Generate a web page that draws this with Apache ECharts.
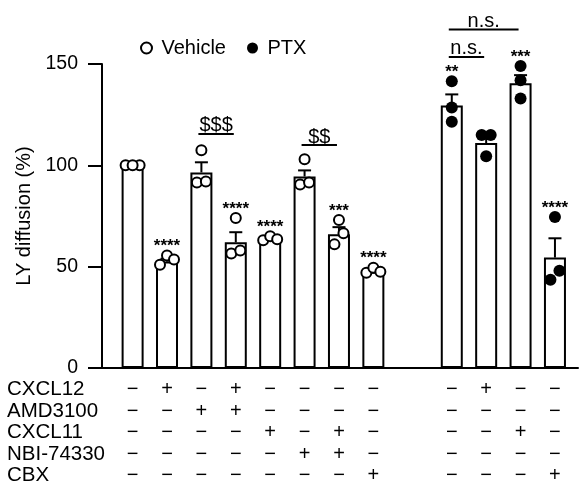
<!DOCTYPE html>
<html>
<head>
<meta charset="utf-8">
<script src="https://cdn.jsdelivr.net/npm/echarts@6/dist/echarts.min.js"></script>
<style>
    html, body {margin: 0; background: #fff;}
    #chart {width: 579px; height: 485px;}
</style>
</head>
<body>
<div id="chart"></div>
<script>
// values
const vehicleMean = [100, 52.5, 96.5, 62, 63.5, 94.5, 66, 47.5]
const vehicleSem = [0.3, 1.4, 5, 5, 0.6, 3, 3.5, 0.8]
const vehiclePoints = [
    [100, 100, 100], [51, 55.5, 53.5], [107.5, 91.5, 92], [74, 56.5, 58],
    [63, 65, 63.5], [103, 90.5, 91.5], [73, 66.5, 61], [47, 49.5, 47.5],
]
const ptxMean = [129.5, 111, 140.5, 54.5]
const ptxSem = [5.5, 2.5, 4, 9.5]
const ptxPoints = [[141.5, 128.5, 121.5], [115, 115, 104.5], [149, 142, 133], [74.5, 48, 43.5]]
const vehicleStars = ['', '****', '', '****', '****', '', '***', '****']
const ptxStars = ['**', '', '***', '****']

// treatment table (1 = +, 0 = −), vehicle bars then PTX bars
const treatments = ['CXCL12', 'AMD3100', 'CXCL11', 'NBI-74330', 'CBX']
const cxcl12 = [0, 1, 0, 1, 0, 0, 0, 0, 0, 1, 0, 0]
const amd3100 = [0, 0, 1, 1, 0, 0, 0, 0, 0, 0, 0, 0]
const cxcl11 = [0, 0, 0, 0, 1, 0, 1, 0, 0, 0, 1, 0]
const nbi74330 = [0, 0, 0, 0, 0, 1, 1, 0, 0, 0, 0, 0]
const cbx = [0, 0, 0, 0, 0, 0, 0, 1, 0, 0, 0, 1]

// comparisons drawn as underlined text
const compFrom = [2, 5, 8, 8]
const compTo = [3, 6, 9, 10]
const compText = ['$$$', '$$', 'n.s.', 'n.s.']
const compLevel = [115.5, 110, 153.5, 167]

const yTicks = [0, 50, 100, 150]

// layout
const FONT = '"Liberation Sans", Arial, sans-serif'
const GRID = {left: 102, right: 1, top: 64, bottom: 117}
const X_MIN = -0.89
const X_MAX = 12.95
const GROUP_GAP = 1.28
const pxPerX = (579 - GRID.left - GRID.right) / (X_MAX - X_MIN)
const pxPerY = (485 - GRID.top - GRID.bottom) / 150

const means = vehicleMean.concat(ptxMean)
const sems = vehicleSem.concat(ptxSem)
const points = vehiclePoints.concat(ptxPoints)
const stars = vehicleStars.concat(ptxStars)
const positions = means.map((_, i) => (i < vehicleMean.length ? i : i + GROUP_GAP))
const table = [cxcl12, amd3100, cxcl11, nbi74330, cbx]

// prism-like spread of overlapping dots (px offsets)
const swarm = (vals) => {
    const order = vals.map((v, i) => i).sort((a, b) => vals[a] - vals[b])
    const clusters = []
    order.forEach((idx) => {
        const last = clusters[clusters.length - 1]
        if (last && (vals[idx] - vals[last[last.length - 1]]) * pxPerY < 12) last.push(idx)
        else clusters.push([idx])
    })
    const offs = new Array(vals.length).fill(0)
    const pattern = {1: [0], 2: [-4.5, 4.5], 3: [-7, 7, 0]}
    clusters.forEach((c) => c.forEach((idx, k) => (offs[idx] = pattern[c.length][k])))
    return offs
}

const dotData = (from, to) => {
    const out = []
    for (let i = from; i < to; i++) {
        const offs = swarm(points[i])
        points[i].forEach((v, k) => out.push([positions[i] + offs[k] / pxPerX, v]))
    }
    return out
}

const signColumn = (v) => {
    const idx = positions.findIndex((p) => Math.abs(p - v) < 1e-6)
    if (idx < 0) return ''
    return table.map((row) => (row[idx] ? '+' : '−')).join('\n')
}

const chart = echarts.init(document.getElementById('chart'))
chart.setOption({
    animation: false,
    textStyle: {fontFamily: FONT, color: '#000'},
    title: {
        text: treatments.join('\n'),
        left: 7,
        top: 379,
        padding: 0,
        textStyle: {fontFamily: FONT, fontSize: 20.5, lineHeight: 21.5, fontWeight: 'normal', color: '#000'},
    },
    legend: {
        left: 135,
        top: 33,
        itemWidth: 20,
        itemHeight: 11,
        itemGap: 21,
        selectedMode: false,
        textStyle: {fontFamily: FONT, fontSize: 20, color: '#000'},
        data: [
            {name: 'Vehicle', icon: 'circle', itemStyle: {color: '#fff', borderColor: '#000', borderWidth: 2}},
            {name: 'PTX', icon: 'circle', itemStyle: {color: '#000', borderWidth: 0}},
        ],
    },
    grid: {...GRID, outerBoundsMode: 'none'},
    xAxis: {
        type: 'value',
        min: X_MIN,
        max: X_MAX,
        splitLine: {show: false},
        axisTick: {show: false},
        axisLine: {show: true, onZero: false, lineStyle: {color: '#000', width: 2}},
        axisLabel: {
            customValues: positions,
            formatter: signColumn,
            fontFamily: FONT,
            fontSize: 20,
            lineHeight: 21.5,
            margin: 11,
            color: '#000',
        },
    },
    yAxis: {
        type: 'value',
        min: 0,
        max: 150,
        interval: 50,
        name: 'LY diffusion (%)',
        nameLocation: 'middle',
        nameGap: 67,
        nameTextStyle: {fontFamily: FONT, fontSize: 20, color: '#000'},
        splitLine: {show: false},
        axisLine: {show: true, onZero: false, lineStyle: {color: '#000', width: 2}},
        axisTick: {show: true, inside: false, length: 14, lineStyle: {color: '#000', width: 2}},
        axisLabel: {
            fontFamily: FONT,
            fontSize: 19.5,
            margin: 24,
            color: '#000',
        },
    },
    series: [
        {
            name: 'bars',
            type: 'bar',
            barWidth: 22,
            silent: true,
            z: 2,
            itemStyle: {color: '#fff', borderColor: '#000', borderWidth: 2},
            data: positions.map((x, i) => [x, means[i]]),
        },
        {
            name: 'sem',
            type: 'custom',
            silent: true,
            z: 3,
            encode: {x: 0, y: 1},
            data: positions.map((x, i) => [x, means[i], sems[i]]),
            renderItem: (params, api) => {
                const x = api.value(0)
                const m = api.value(1)
                const base = api.coord([x, m])
                const top = api.coord([x, m + api.value(2)])
                const stroke = {stroke: '#000', lineWidth: 2}
                return {
                    type: 'group',
                    children: [
                        {type: 'line', shape: {x1: base[0], y1: base[1], x2: top[0], y2: top[1]}, style: stroke},
                        {type: 'line', shape: {x1: top[0] - 6.5, y1: top[1], x2: top[0] + 6.5, y2: top[1]}, style: stroke},
                    ],
                }
            },
        },
        {
            name: 'Vehicle',
            type: 'scatter',
            clip: false,
            silent: true,
            z: 4,
            symbolSize: 10,
            itemStyle: {color: '#fff', borderColor: '#000', borderWidth: 2, opacity: 1},
            data: dotData(0, vehicleMean.length),
        },
        {
            name: 'PTX',
            type: 'scatter',
            clip: false,
            silent: true,
            z: 4,
            symbolSize: 12,
            itemStyle: {color: '#000', opacity: 1},
            data: dotData(vehicleMean.length, means.length),
        },
        {
            name: 'stars',
            type: 'custom',
            silent: true,
            z: 5,
            encode: {x: 0, y: 1},
            data: positions.map((x, i) => [x, Math.max(means[i] + sems[i], ...points[i]), i]),
            renderItem: (params, api) => {
                const p = api.coord([api.value(0), api.value(1)])
                return {
                    type: 'text',
                    style: {
                        text: stars[api.value(2)],
                        x: p[0],
                        y: p[1] - 9,
                        fill: '#000',
                        font: 'bold 17px ' + FONT,
                        align: 'center',
                        verticalAlign: 'middle',
                        textAlign: 'center',
                        textVerticalAlign: 'middle',
                    },
                }
            },
        },
        {
            name: 'comparisons',
            type: 'custom',
            silent: true,
            z: 5,
            encode: {x: 0, y: 2},
            data: compFrom.map((a, i) => [positions[a], positions[compTo[i]], compLevel[i], i]),
            renderItem: (params, api) => {
                const p1 = api.coord([api.value(0), api.value(2)])
                const p2 = api.coord([api.value(1), api.value(2)])
                const x1 = p1[0] - 3
                const x2 = p2[0] - 2
                return {
                    type: 'group',
                    children: [
                        {type: 'line', shape: {x1, y1: p1[1], x2, y2: p1[1]}, style: {stroke: '#000', lineWidth: 2}},
                        {
                            type: 'text',
                            style: {
                                text: compText[api.value(3)],
                                x: (x1 + x2) / 2,
                                y: p1[1] + 2,
                                fill: '#000',
                                font: '20px ' + FONT,
                                align: 'center',
                                verticalAlign: 'bottom',
                                textAlign: 'center',
                                textVerticalAlign: 'bottom',
                            },
                        },
                    ],
                }
            },
        },
    ],
})
</script>
</body>
</html>
